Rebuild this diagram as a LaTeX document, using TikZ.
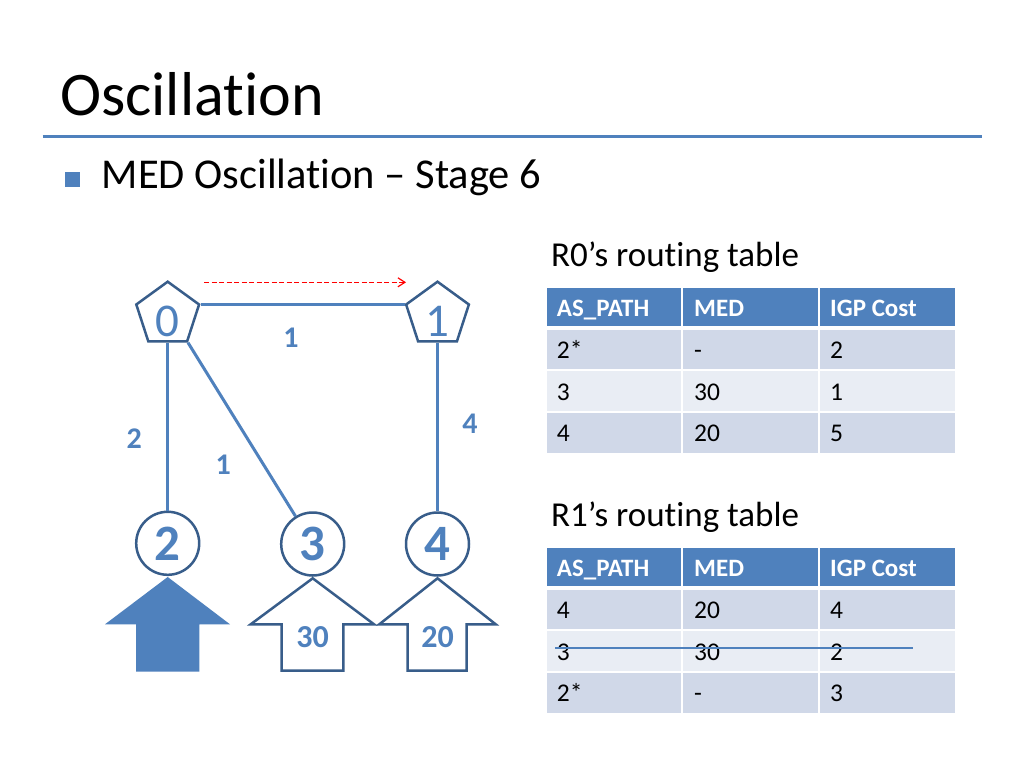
\documentclass[tikz,border=0pt]{standalone}
\usepackage{fontspec}
\setmainfont[Ligatures={NoCommon,NoContextual},Contextuals={NoAlternate}]{Carlito}
\usetikzlibrary{shapes.geometric,arrows.meta}
\definecolor{accent}{HTML}{4F81BD}
\definecolor{edgeblue}{HTML}{385D8A}
\definecolor{rowA}{HTML}{D0D8E8}
\definecolor{rowB}{HTML}{E9EDF4}
\newcommand{\fsz}[1]{\fontsize{#1}{#1}\selectfont}
\begin{document}
\begin{tikzpicture}[x=1pt,y=-1pt,
  router/.style={regular polygon, regular polygon sides=5, minimum size=66pt, inner sep=0pt, draw=edgeblue, line width=2.5pt, fill=white},
  asnode/.style={circle, minimum size=63pt, inner sep=0pt, draw=edgeblue, line width=2.5pt, fill=white, text=accent, font=\fsz{51}\bfseries},
  link/.style={draw=accent, line width=3pt},
  cost/.style={text=accent, inner sep=0pt, font=\fsz{30}\bfseries},
  rlabel/.style={text=accent, inner sep=0pt, font=\fsz{47}},
  medlabel/.style={text=accent, inner sep=0pt, font=\fsz{32}\bfseries},
  hdr/.style={anchor=base west, inner sep=0pt, text=white, font=\fsz{25}\bfseries},
  cell/.style={anchor=base west, inner sep=0pt, text=black, font=\fsz{25.5}},
  ttl/.style={anchor=base west, inner sep=0pt, text=black},
  openarrow/.style={draw=edgeblue, line width=2.5pt, fill=white, line join=miter},
]
\useasboundingbox[fill=white] (0,0) rectangle (1024,768);

% title
\node[ttl, font=\fsz{62}] (title) at (60,115) {Oscillation};
\draw[accent, line width=3pt] (42.7,136.5) -- (982,136.5);
\fill[accent] (65,172) rectangle (80,187);
\node[ttl, font=\fsz{42.5}] (bullet) at (101.7,188.3) {MED Oscillation – Stage 6};

% AS arrows
\fill[accent] (167.7,577) -- (230,624.3) -- (199.3,624.3) -- (199.3,671.7) -- (136,671.7) -- (136,624.3) -- (105,624.3) -- cycle;
\draw[openarrow] (312.7,578.3) -- (374,624.3) -- (343.3,624.3) -- (343.3,670.7) -- (281.7,670.7) -- (281.7,624.3) -- (250.7,624.3) -- cycle;
\draw[openarrow] (437.5,578.3) -- (495.7,624.3) -- (466.7,624.3) -- (466.7,670.7) -- (407.7,670.7) -- (407.7,624.3) -- (379.3,624.3) -- cycle;
\node[medlabel] (m3) at (312.7,636.7) {30};
\node[medlabel] (m4) at (437.5,636.7) {20};

% nodes
\node[router] (p0) at (167.7,314.7) {};
\node[router] (p1) at (437.5,314.7) {};
\node[rlabel] (l0) at (167.7,321) {0};
\node[rlabel] (l1) at (437.5,321) {1};
\node[asnode] (c2) at (167.7,543.3) {2};
\node[asnode] (c3) at (312.7,544) {3};
\node[asnode] (c4) at (437.5,544) {4};

% links
\draw[link] (p0.corner 5) -- (p1.corner 2);
\draw[link] (p0.south) -- (c2.north);
\draw[link] (p0.corner 4) -- (c3);
\draw[link] (p1.south) -- (c4.north);

\node[cost] (w01) at (291,338) {1};
\node[cost] (w02) at (134.3,439) {2};
\node[cost] (w03) at (223.3,465) {1};
\node[cost] (w14) at (470,424) {4};

% red dashed arrow
\coordinate (ds) at (204,282.3);
\coordinate (de) at (406,282.3);
\draw[red, line width=1.2pt, dash pattern=on 5pt off 2.5pt, -{Straight Barb[length=7pt,width=9pt]}] (ds) -- (de);

% R0 table
\node[ttl, font=\fsz{35}] (t0) at (551,266.7) {R0’s routing table};
\fill[accent] (547,288.3) rectangle (955,328);
\fill[rowA] (547,328) rectangle (955,370);
\fill[rowB] (547,370) rectangle (955,412);
\fill[rowA] (547,412) rectangle (955,452.5);
\draw[white, line width=1.7pt] (682,288.3) -- (682,452.5) (819,288.3) -- (819,452.5);
\draw[white, line width=3.5pt] (547,328) -- (955,328);
\draw[white, line width=1.5pt] (547,370) -- (955,370) (547,412) -- (955,412);
\node[hdr] (a00) at (556.7,316.7) {AS\_PATH};
\node[hdr] (a01) at (694,316.7) {MED};
\node[hdr] (a02) at (830,316.7) {IGP Cost};
\node[cell] (a10) at (556.7,358.3) {2*};
\node[cell] (a11) at (694,358.3) {-};
\node[cell] (a12) at (830,358.3) {2};
\node[cell] (a20) at (556.7,400) {3};
\node[cell] (a21) at (694,400) {30};
\node[cell] (a22) at (830,400) {1};
\node[cell] (a30) at (556.7,441.7) {4};
\node[cell] (a31) at (694,441.7) {20};
\node[cell] (a32) at (830,441.7) {5};

% R1 table
\node[ttl, font=\fsz{35}] (t1) at (551,526.7) {R1’s routing table};
\fill[accent] (547,548.3) rectangle (955,588);
\fill[rowA] (547,588) rectangle (955,630);
\fill[rowB] (547,630) rectangle (955,672);
\fill[rowA] (547,672) rectangle (955,712.5);
\draw[white, line width=1.7pt] (682,548.3) -- (682,712.5) (819,548.3) -- (819,712.5);
\draw[white, line width=3.5pt] (547,588) -- (955,588);
\draw[white, line width=1.5pt] (547,630) -- (955,630) (547,672) -- (955,672);
\node[hdr] (b00) at (556.7,576.7) {AS\_PATH};
\node[hdr] (b01) at (694,576.7) {MED};
\node[hdr] (b02) at (830,576.7) {IGP Cost};
\node[cell] (b10) at (556.7,618.3) {4};
\node[cell] (b11) at (694,618.3) {20};
\node[cell] (b12) at (830,618.3) {4};
\node[cell] (b20) at (556.7,660) {3};
\node[cell] (b21) at (694,660) {30};
\node[cell] (b22) at (830,660) {2};
\node[cell] (b30) at (556.7,701.7) {2*};
\node[cell] (b31) at (694,701.7) {-};
\node[cell] (b32) at (830,701.7) {3};

% strike-through
\coordinate (ss) at (555,648.3);
\coordinate (se) at (912.7,648.3);
\draw[accent, line width=2pt] (ss) -- (se);
\end{tikzpicture}
\end{document}
